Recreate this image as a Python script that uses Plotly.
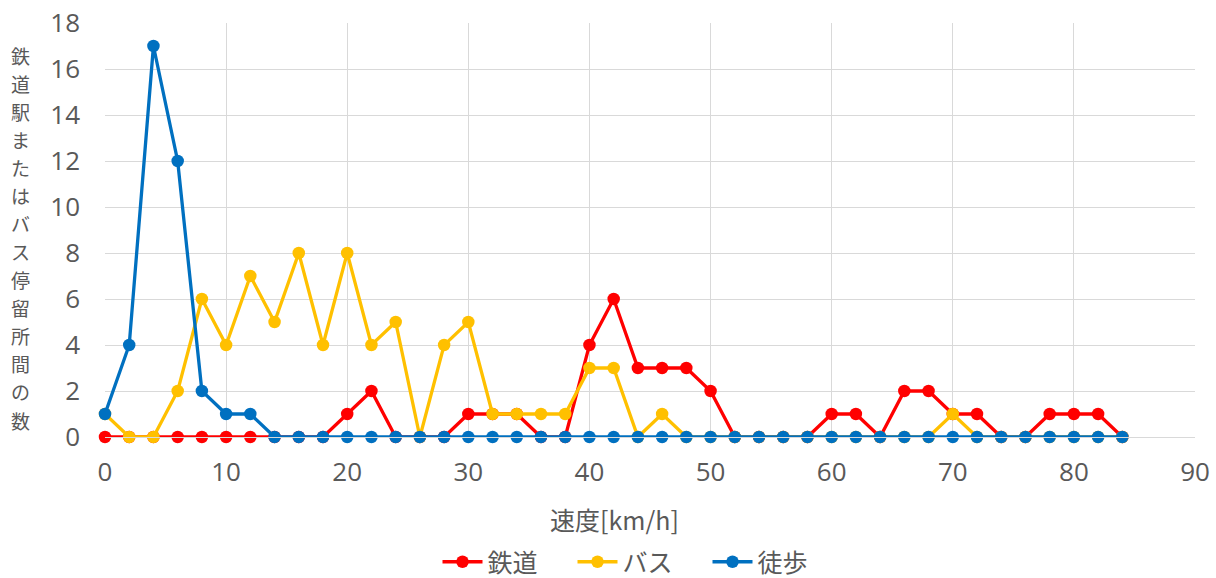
import plotly.graph_objects as go

speed = list(range(0, 86, 2))
rail = [0, 0, 0, 0, 0, 0, 0, 0, 0, 0, 1, 2, 0, 0, 0, 1, 1, 1, 0, 0, 4, 6, 3, 3, 3, 2,
        0, 0, 0, 0, 1, 1, 0, 2, 2, 1, 1, 0, 0, 1, 1, 1, 0]
bus = [1, 0, 0, 2, 6, 4, 7, 5, 8, 4, 8, 4, 5, 0, 4, 5, 1, 1, 1, 1, 3, 3, 0, 1, 0, 0,
       0, 0, 0, 0, 0, 0, 0, 0, 0, 1, 0, 0, 0, 0, 0, 0, 0]
walk = [1, 4, 17, 12, 2, 1, 1, 0, 0, 0, 0, 0, 0, 0, 0, 0, 0, 0, 0, 0, 0, 0, 0, 0, 0, 0,
        0, 0, 0, 0, 0, 0, 0, 0, 0, 0, 0, 0, 0, 0, 0, 0, 0]

names = ["鉄道", "バス", "徒歩"]
colors = ["#FF0000", "#FFC000", "#0070C0"]
ytitle = "鉄道駅またはバス停留所間の数"
xtitle = "速度[km/h]"

FONT = "Open Sans, Noto Sans CJK JP, sans-serif"
JP = "Noto Sans CJK JP, sans-serif"
GREY = "#595959"

W, H = 1216, 578
L, R, T, B = 105, 21, 23, 141
PW, PH = W - L - R, H - T - B

fig = go.Figure()
for name, vals, c in zip(names, [rail, bus, walk], colors):
    fig.add_trace(go.Scatter(
        x=speed, y=vals, name=name, mode="lines+markers",
        line=dict(color=c, width=3.3),
        marker=dict(color=c, size=12.5),
        cliponaxis=False,
    ))

fig.update_layout(
    width=W, height=H,
    margin=dict(l=L, r=R, t=T, b=B, autoexpand=False),
    paper_bgcolor="white", plot_bgcolor="white",
    font=dict(family=FONT, color=GREY, size=26),
    showlegend=True,
    legend=dict(orientation="h", x=(640 - L) / PW, xanchor="center",
                y=(T + PH - 539) / PH, yanchor="top",
                font=dict(family=JP, size=25, color=GREY),
                entrywidth=80, entrywidthmode="pixels",
                itemwidth=40, tracegroupgap=0),
    xaxis=dict(range=[0, 90], dtick=10, tick0=0, showgrid=True, gridcolor="#D9D9D9",
               gridwidth=1.3, zeroline=False, showline=True, linecolor="#D9D9D9",
               linewidth=1.3, ticks="", ticklabelstandoff=12, automargin=False,
               fixedrange=True),
    yaxis=dict(range=[0, 18], dtick=2, tick0=0, showgrid=True, gridcolor="#D9D9D9",
               gridwidth=1.3, zeroline=False, showline=False, ticks="",
               ticklabelstandoff=24, automargin=False, fixedrange=True),
)

# x-axis title
fig.add_annotation(
    text=xtitle, xref="paper", yref="paper",
    x=(614 - L) / PW, y=(T + PH - 519) / PH, xanchor="center", yanchor="middle",
    showarrow=False, font=dict(family=JP, size=25, color=GREY),
)

# vertical stacked y-axis title
chars = list(ytitle)
top_c, bot_c = 55, 420
step = (bot_c - top_c) / (len(chars) - 1)
for i, ch in enumerate(chars):
    ypx = top_c + i * step
    fig.add_annotation(
        text=ch, xref="paper", yref="paper",
        x=(20 - L) / PW, y=(T + PH - ypx) / PH, xanchor="center", yanchor="middle",
        showarrow=False, font=dict(family=JP, size=19, color=GREY),
    )

fig.write_html("out.html", config={"displayModeBar": False},
               post_script="document.body.style.margin='0';")
